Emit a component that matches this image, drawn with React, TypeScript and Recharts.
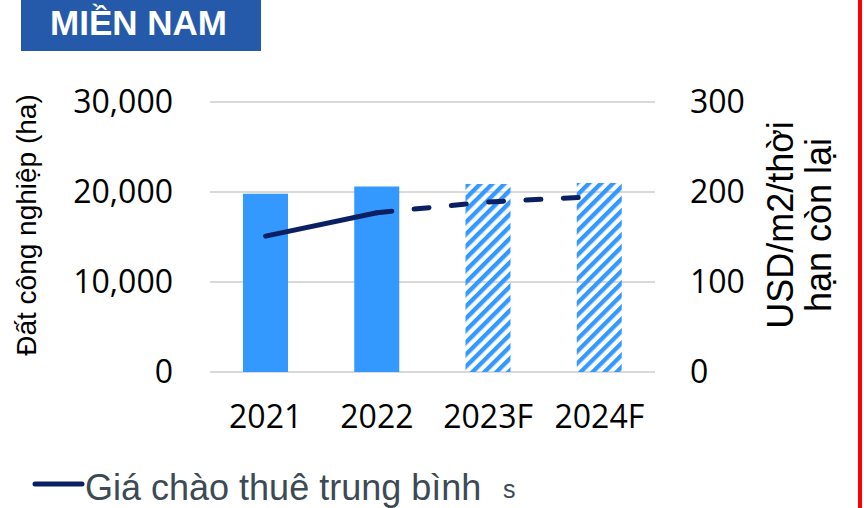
import React from 'react';
import { ComposedChart, Bar, Line, XAxis, YAxis, CartesianGrid, Cell } from 'recharts';

const years = ['2021', '2022', '2023F', '2024F'];
const landArea = [19800, 20600, 20900, 21000];
const forecast = [false, false, true, true];
const priceActual = [151, 177, null, null];
const priceForecast = [null, 177, 189, 195];
const leftTicks = [0, 10000, 20000, 30000];
const rightTicks = [0, 100, 200, 300];

const data = years.map((year, i) => ({
  year,
  area: landArea[i],
  price: priceActual[i],
  priceF: priceForecast[i],
}));

const BLUE = '#3399FF';
const NAVY = '#0A2062';
const tickStyle = { fill: '#000', fontSize: 32, fontFamily: '"Open Sans", sans-serif' };

export default function App() {
  return (
    <div style={{ position: 'absolute', left: 0, top: 0, width: 864, height: 508, background: '#fff', overflow: 'hidden' }}>
      <ComposedChart
        width={864}
        height={508}
        data={data}
        margin={{ top: 102, right: 0, bottom: 76, left: 0 }}
        barSize={45}
      >
        <defs>
          <pattern id="hatch" patternUnits="userSpaceOnUse" width="8.5" height="8.5" patternTransform="rotate(45)">
            <rect x="0" y="0" width="4.3" height="8.5" fill={BLUE} />
          </pattern>
        </defs>
        <CartesianGrid horizontal vertical={false} stroke="#D9D9D9" strokeWidth={2} yAxisId="left" />
        <XAxis
          dataKey="year"
          height={60}
          axisLine={false}
          tickLine={false}
          tickMargin={27}
          tick={tickStyle}
        />
        <YAxis
          yAxisId="left"
          width={210}
          domain={[0, 30000]}
          ticks={leftTicks}
          axisLine={false}
          tickLine={false}
          tickMargin={31}
          tick={tickStyle}
          tickFormatter={(v: number) => v.toLocaleString('en-US')}
        />
        <YAxis
          yAxisId="right"
          orientation="right"
          width={209}
          domain={[0, 300]}
          ticks={rightTicks}
          axisLine={false}
          tickLine={false}
          tickMargin={29}
          tick={{ ...tickStyle, textAnchor: 'start' }}
        />
        <Bar yAxisId="left" dataKey="area" isAnimationActive={false}>
          {data.map((d, i) => (
            <Cell key={d.year} fill={forecast[i] ? 'url(#hatch)' : BLUE} />
          ))}
        </Bar>
        <Line
          yAxisId="right"
          dataKey="price"
          stroke={NAVY}
          strokeWidth={5}
          strokeLinecap="round"
          dot={false}
          activeDot={false}
          isAnimationActive={false}
        />
        <Line
          yAxisId="right"
          dataKey="priceF"
          stroke={NAVY}
          strokeWidth={5}
          strokeLinecap="round"
          strokeDasharray="15 22.4"
          dot={false}
          activeDot={false}
          isAnimationActive={false}
        />
      </ComposedChart>

      <svg width={864} height={508} style={{ position: 'absolute', left: 0, top: 0, pointerEvents: 'none' }}>
        <rect x={21} y={0} width={240} height={51} fill="#2559A9" />
        <text x={50} y={35} fill="#fff" fontSize={35} fontWeight="bold" fontFamily='"Liberation Sans", Arial, sans-serif'>
          MIỀN NAM
        </text>
        <text
          transform="translate(36,225) rotate(-90)"
          textAnchor="middle"
          fontSize={28}
          fill="#000"
          fontFamily='"Liberation Sans", Arial, sans-serif'
        >
          Đất công nghiệp (ha)
        </text>
        <g fontSize={36} fill="#000" fontFamily='"Liberation Sans", Arial, sans-serif' textAnchor="middle">
          <text transform="translate(793,225) rotate(-90)">USD/m2/thời</text>
          <text transform="translate(831,225) rotate(-90)">hạn còn lại</text>
        </g>
        <line x1={35} y1={484} x2={82} y2={484} stroke={NAVY} strokeWidth={5} strokeLinecap="round" />
        <text x={85} y={500} fontSize={36} fill="#3B4A54" fontFamily='"Liberation Sans", Arial, sans-serif'>
          Giá chào thuê trung bình
        </text>
        <text x={503} y={498} fontSize={25} fill="#3B4A54" fontFamily='"Liberation Sans", Arial, sans-serif'>
          s
        </text>
        <rect x={858} y={0} width={4} height={508} fill="#FF0000" />
      </svg>
    </div>
  );
}
